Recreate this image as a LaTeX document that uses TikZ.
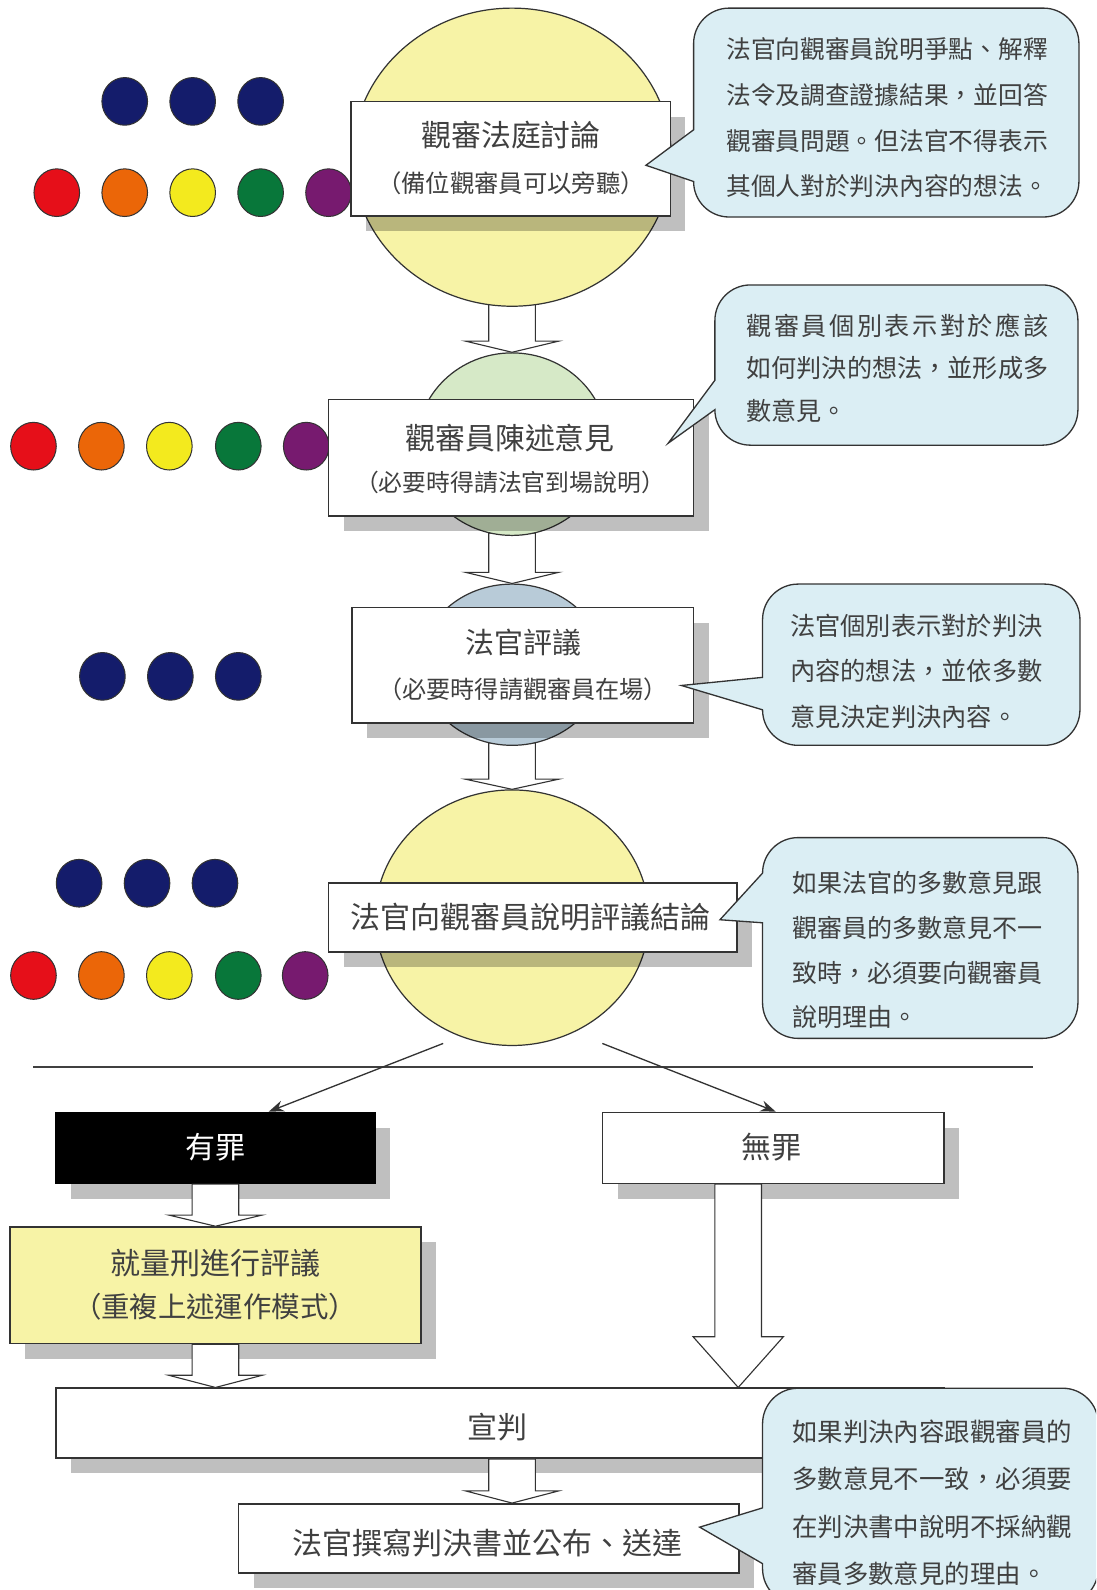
\documentclass[tikz,border=0pt]{standalone}
\usepackage{fontspec}
\setmainfont{Noto Sans CJK TC}
\usetikzlibrary{shapes.geometric,shadows,calc,arrows.meta,backgrounds}

\definecolor{txt}{HTML}{404040}
\definecolor{ylw}{HTML}{F7F3A6}
\definecolor{grn}{HTML}{D6E9C7}
\definecolor{blg}{HTML}{B8CBD8}
\definecolor{clb}{HTML}{DBEEF4}
\definecolor{navy}{HTML}{141C6B}
\definecolor{dred}{HTML}{E60F19}
\definecolor{dorg}{HTML}{EB6608}
\definecolor{dylw}{HTML}{F3EA1E}
\definecolor{dgrn}{HTML}{08773A}
\definecolor{dpur}{HTML}{771A6F}
\definecolor{edge}{HTML}{333333}

\newcommand\fsz[1]{\fontsize{#1}{#1}\selectfont}

\tikzset{
 egg/.style={ellipse, draw=edge, line width=1.2pt, inner sep=0pt},
 dot/.style={ellipse, draw=edge, line width=1pt, minimum width=45pt, minimum height=47pt, inner sep=0pt},
 box/.style={rectangle, draw=edge, line width=1.5pt, fill=white, inner sep=0pt,
   drop shadow={shadow xshift=15pt, shadow yshift=-15pt, opacity=0.25, fill=black}},
 lbl/.style={text=txt, inner sep=0pt},
 ctext/.style={text=txt, inner sep=0pt, align=left, anchor=west},
 callbox/.style={draw=edge, line width=1.3pt, fill=clb, line join=miter},
 barrow/.style={draw=edge, line width=1.1pt, fill=white, line join=miter},
 conn/.style={draw=edge, line width=1.3pt, -{Stealth[length=15pt,width=11pt]}},
 sep/.style={draw=txt, line width=2.2pt},
}

% block arrow: start, end, head height, head half width
\newcommand\blockarrow[4]{%
 \path[barrow] let \p1=(#1), \p2=(#2) in
 (\x1-23pt,\y1) -- (\x1-23pt,\y2+#3) -- (\x1-#4,\y2+#3) -- (\x1,\y2)
 -- (\x1+#4,\y2+#3) -- (\x1+23pt,\y2+#3) -- (\x1+23pt,\y1) -- cycle;}

% callout: x0, ytop, x1, ybot, base1, base2, tipx, tipy
\newcommand\callout[8]{%
 \path[callbox] (#1,#5) -- (#1,{#2+35}) arc[start angle=180,end angle=270,radius=35]
 -- ({#3-35},#2) arc[start angle=270,end angle=360,radius=35]
 -- (#3,{#4-35}) arc[start angle=0,end angle=90,radius=35]
 -- ({#1+35},#4) arc[start angle=90,end angle=180,radius=35]
 -- (#1,#6) -- (#7,#8) -- cycle;}

\begin{document}
\begin{tikzpicture}[x=1pt,y=-1pt]
\useasboundingbox (0,0) rectangle (1081,1568);
\clip (0,0) rectangle (1081,1568);

% ellipses
\node[egg, fill=ylw, minimum width=314pt, minimum height=294pt] (E1) at (505,155) {};
\node[egg, fill=grn, minimum width=188pt, minimum height=180pt] (E2) at (505,438) {};
\node[egg, fill=blg, minimum width=180pt, minimum height=159pt] (E3) at (505,655.5) {};
\node[egg, fill=ylw, minimum width=270pt, minimum height=252pt] (E4) at (505,905) {};

\begin{scope}[on background layer]
\blockarrow{[yshift=3pt]E1.south}{E2.north}{11pt}{46pt}
\blockarrow{[yshift=3pt]E2.south}{E3.north}{11pt}{46pt}
\blockarrow{[yshift=3pt]E3.south}{E4.north}{10pt}{46pt}
\end{scope}

% dots
\node[dot, fill=navy] (a1) at (123,100) {};
\node[dot, fill=navy] (a2) at (190,100) {};
\node[dot, fill=navy] (a3) at (257,100) {};
\node[dot, fill=dred] (b1) at (56,190) {};
\node[dot, fill=dorg] (b2) at (123,190) {};
\node[dot, fill=dylw] (b3) at (190,190) {};
\node[dot, fill=dgrn] (b4) at (257,190) {};
\node[dot, fill=dpur] (b5) at (324,190) {};

\node[dot, fill=dred] (c1) at (33,440) {};
\node[dot, fill=dorg] (c2) at (100,440) {};
\node[dot, fill=dylw] (c3) at (167,440) {};
\node[dot, fill=dgrn] (c4) at (235,440) {};
\node[dot, fill=dpur] (c5) at (302,440) {};

\node[dot, fill=navy] (e1) at (101,667) {};
\node[dot, fill=navy] (e2) at (168,667) {};
\node[dot, fill=navy] (e3) at (235,667) {};

\node[dot, fill=navy] (f1) at (78,871) {};
\node[dot, fill=navy] (f2) at (145,871) {};
\node[dot, fill=navy] (f3) at (212,871) {};
\node[dot, fill=dred] (g1) at (33,962) {};
\node[dot, fill=dorg] (g2) at (100,962) {};
\node[dot, fill=dylw] (g3) at (167,962) {};
\node[dot, fill=dgrn] (g4) at (235,962) {};
\node[dot, fill=dpur] (g5) at (301,962) {};

% boxes
\node[box, minimum width=315pt, minimum height=113pt] (B1) at (503.5,156.5) {};
\node[lbl, font=\fsz{29.5}] (B1a) at (504,133) {觀審法庭討論};
\node[lbl, font=\fsz{24}] (B1b) at (504,180.5) {（備位觀審員可以旁聽）};

\node[box, minimum width=360pt, minimum height=115pt] (B2) at (504,451.5) {};
\node[lbl, font=\fsz{29.5}] (B2a) at (503,432) {觀審員陳述意見};
\node[lbl, font=\fsz{23.5}] (B2b) at (503,476) {（必要時得請法官到場說明）};

\node[box, minimum width=337pt, minimum height=114pt] (B3) at (515.5,656) {};
\node[lbl, font=\fsz{28.5}] (B3a) at (516,634) {法官評議};
\node[lbl, font=\fsz{23.8}] (B3b) at (516,680) {（必要時得請觀審員在場）};

\node[box, minimum width=403pt, minimum height=68pt] (B4) at (525.5,905) {};
\node[lbl, font=\fsz{29.6}] (B4a) at (523,904) {法官向觀審員說明評議結論};

\node[box, fill=black, draw=black, minimum width=315pt, minimum height=70pt] (yz) at (212.5,1132) {};
\node[lbl, text=white, font=\fsz{29.6}] (yzt) at (212.5,1131) {有罪};

\node[box, minimum width=337pt, minimum height=70pt] (wz) at (762.5,1132) {};
\node[lbl, font=\fsz{29.6}] (wzt) at (761,1131) {無罪};

\node[box, fill=ylw, minimum width=405pt, minimum height=115pt] (lx) at (212.5,1267.5) {};
\node[lbl, font=\fsz{29.6}] (lxa) at (212.5,1246) {就量刑進行評議};
\node[lbl, font=\fsz{28}] (lxb) at (212,1289) {（重複上述運作模式）};

\node[box, minimum width=876pt, minimum height=69pt] (xp) at (493,1403.5) {};
\node[lbl, font=\fsz{29.6}] (xpt) at (491,1407) {宣判};

\node[box, minimum width=494pt, minimum height=68pt] (zx) at (482,1517) {};
\node[lbl, font=\fsz{29.6}] (zxt) at (481,1522) {法官撰寫判決書並公布、送達};

% block arrows between boxes
\coordinate (ax) at (728,0);
\coordinate (cx) at (505,0);
\blockarrow{yz.south}{lx.north}{11pt}{46pt}
\blockarrow{lx.south}{lx.south |- xp.north}{12pt}{46pt}
\blockarrow{ax |- wz.south}{ax |- xp.north}{50pt}{44.5pt}
\blockarrow{cx |- xp.south}{cx |- zx.north}{12pt}{46pt}

% separator and verdict connectors
\coordinate (sepL) at (33,1052);
\coordinate (sepR) at (1019,1052);
\draw[sep] (sepL) -- (sepR);
\coordinate (v1) at (437,1029);
\coordinate (v2) at (594,1029);
\draw[conn] (v1) -- ([xshift=52.5pt]yz.north);
\draw[conn] (v2) -- ([xshift=2.5pt]wz.north);

% callouts
\callout{684}{8}{1064}{214}{128}{179}{637}{163}
\node[ctext, font=\fontsize{24.4}{45}\selectfont] (C1t) at (716,116.4)
 {法官向觀審員說明爭點、解釋\\法令及調查證據結果，並回答\\觀審員問題。但法官不得表示\\其個人對於判決內容的想法。};

\callout{705}{281}{1063}{439}{375}{404}{659}{437}
\node[ctext, font=\fontsize{24.8}{42}\selectfont] (C2t) at (736,363)
 {\makebox[12em][s]{觀\hfill 審\hfill 員\hfill 個\hfill 別\hfill 表\hfill 示\hfill 對\hfill 於\hfill 應\hfill 該}\\如何判決的想法，並形成多\\數意見。};

\callout{752}{576}{1065}{735}{668}{700}{672}{676}
\node[ctext, font=\fontsize{24.9}{45}\selectfont] (C3t) at (779,662)
 {法官個別表示對於判決\\內容的想法，並依多數\\意見決定判決內容。};

\callout{752}{826}{1063}{1024}{861}{910}{710}{907}
\node[ctext, font=\fontsize{24.7}{44}\selectfont] (C4t) at (781,937)
 {如果法官的多數意見跟\\觀審員的多數意見不一\\致時，必須要向觀審員\\說明理由。};

\callout{752}{1369}{1083}{1582}{1487}{1542}{690}{1506}
\node[ctext, font=\fontsize{25.1}{46.7}\selectfont] (C5t) at (781,1482)
 {如果判決內容跟觀審員的\\多數意見不一致，必須要\\在判決書中說明不採納觀\\審員多數意見的理由。};
\end{tikzpicture}
\end{document}
